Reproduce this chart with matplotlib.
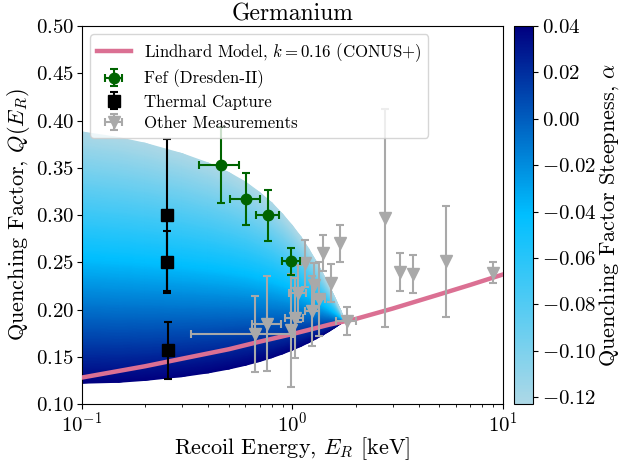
import numpy as np
import matplotlib
matplotlib.use('Agg')
import matplotlib.pyplot as plt
from matplotlib.colors import LinearSegmentedColormap, Normalize
from matplotlib.cm import ScalarMappable

plt.rcParams['font.family'] = 'serif'
plt.rcParams['font.serif'] = ['cmr10']
plt.rcParams['mathtext.fontset'] = 'cm'
plt.rcParams['axes.formatter.use_mathtext'] = True

# Lindhard model, k = 0.16
e_lind = [0.1, 0.15, 0.2, 0.3, 0.5, 0.7, 1.0, 1.5, 2.0, 3.0, 5.0, 7.0, 10.0]
q_lind = [0.128, 0.135, 0.140, 0.148, 0.158, 0.166, 0.174, 0.184, 0.190, 0.201, 0.216, 0.226, 0.237]

# band of modified curves: edge at alpha_min (top) and alpha_max (bottom)
alpha_min = -0.123
alpha_max = 0.04
e_band = [0.1, 0.15, 0.2, 0.3, 0.4, 0.5, 0.6, 0.7, 0.8, 0.9, 1.0, 1.1, 1.2, 1.3, 1.4, 1.5, 1.6, 1.7, 1.78]
q_band_top = [0.388, 0.382, 0.376, 0.365, 0.355, 0.345, 0.335, 0.324, 0.313, 0.301, 0.289,
              0.277, 0.264, 0.251, 0.238, 0.225, 0.212, 0.199, 0.188]
q_band_bot = [0.122, 0.123, 0.125, 0.129, 0.133, 0.137, 0.141, 0.145, 0.149, 0.153, 0.157,
              0.161, 0.165, 0.169, 0.173, 0.177, 0.181, 0.185, 0.188]

# Fef (Dresden-II)
fef_e = [0.46, 0.606, 0.77, 0.99]
fef_q = [0.353, 0.317, 0.300, 0.251]
fef_xerr = [0.10, 0.10, 0.10, 0.10]
fef_qerr = [0.040, 0.027, 0.027, 0.014]

# thermal neutron capture
tc_e = [0.254, 0.254, 0.258]
tc_q = [0.300, 0.250, 0.157]
tc_qerr = [0.080, 0.033, 0.030]

# other measurements
oth_e = [2.77, 3.27, 3.75, 5.36, 8.99, 0.669, 0.762, 0.991, 1.028, 1.065, 1.155, 1.265, 1.247, 1.337, 1.401, 1.535, 1.681, 1.821]
oth_q = [0.297, 0.240, 0.238, 0.251, 0.239, 0.174, 0.185, 0.178, 0.191, 0.217, 0.249, 0.226, 0.198, 0.211, 0.260, 0.228, 0.270, 0.188]
oth_xerr = [0, 0, 0, 0, 0, 0.34, 0.12, 0, 0.1, 0.1, 0, 0, 0.09, 0.1, 0, 0, 0, 0.2]
oth_qerr = [0.115, 0.020, 0.020, 0.059, 0.011, 0.040, 0.050, 0.060, 0.042, 0.030, 0.025, 0.023, 0.037, 0.039, 0.019, 0.020, 0.020, 0.015]

cmap = LinearSegmentedColormap.from_list('steep', ['lightblue', 'deepskyblue', 'navy'])
norm = Normalize(vmin=alpha_min, vmax=alpha_max)

fig = plt.figure(figsize=(6.29, 4.66), dpi=100)
ax = fig.add_axes([0.130, 0.133, 0.669, 0.811])
cax = fig.add_axes([0.817, 0.133, 0.030, 0.811])

# gradient band between the two edge curves
nrow = 80
frac = np.linspace(0, 1, nrow)[:, None]
eb = np.array(e_band)
qt = np.array(q_band_top)
qb = np.array(q_band_bot)
X = np.broadcast_to(eb, (nrow, len(eb)))
Y = qb + frac * (qt - qb)
C = np.broadcast_to(alpha_max + frac * (alpha_min - alpha_max), (nrow, len(eb)))
ax.pcolormesh(X, Y, C, shading='gouraud', cmap=cmap, norm=norm, zorder=1)

ax.plot(e_lind, q_lind, color='palevioletred', lw=3.2, zorder=3,
        label=r'Lindhard Model, $k=0.16$ (CONUS+)')
ax.errorbar(fef_e, fef_q, xerr=fef_xerr, yerr=fef_qerr, fmt='o', color='darkgreen',
            ms=7.5, capsize=3, elinewidth=1.5, capthick=1.5, zorder=5, label='Fef (Dresden-II)')
ax.errorbar(tc_e, tc_q, yerr=tc_qerr, fmt='s', color='black',
            ms=8.5, capsize=3, elinewidth=1.5, capthick=1.5, zorder=5, label='Thermal Capture')
ax.errorbar(oth_e, oth_q, xerr=oth_xerr, yerr=oth_qerr, fmt='v', color='darkgray',
            ms=8, capsize=3, elinewidth=1.5, capthick=1.5, zorder=4, label='Other Measurements')

ax.set_xscale('log')
ax.set_xlim(0.1, 10)
ax.set_ylim(0.10, 0.50)
ax.set_yticks(np.arange(0.10, 0.501, 0.05))
ax.tick_params(labelsize=15)
ax.tick_params(axis='x', which='major', pad=1.8)
ax.tick_params(axis='y', pad=2)
ax.set_xlabel(r'Recoil Energy, $E_R$ [keV]', fontsize=16, labelpad=0)
ax.set_ylabel(r'Quenching Factor, $Q(E_R)$', fontsize=16, labelpad=3)
ax.set_title('Germanium', fontsize=17, pad=4)
ax.legend(loc='upper left', fontsize=12.1, labelspacing=0.35)

cb = fig.colorbar(ScalarMappable(norm=norm, cmap=cmap), cax=cax)
cb.set_ticks(np.arange(-0.12, 0.041, 0.02))
cb.ax.tick_params(labelsize=15)
cb.set_label(r'Quenching Factor Steepness, $\alpha$', fontsize=16, labelpad=0)

fig.savefig('out.png', dpi=100)
